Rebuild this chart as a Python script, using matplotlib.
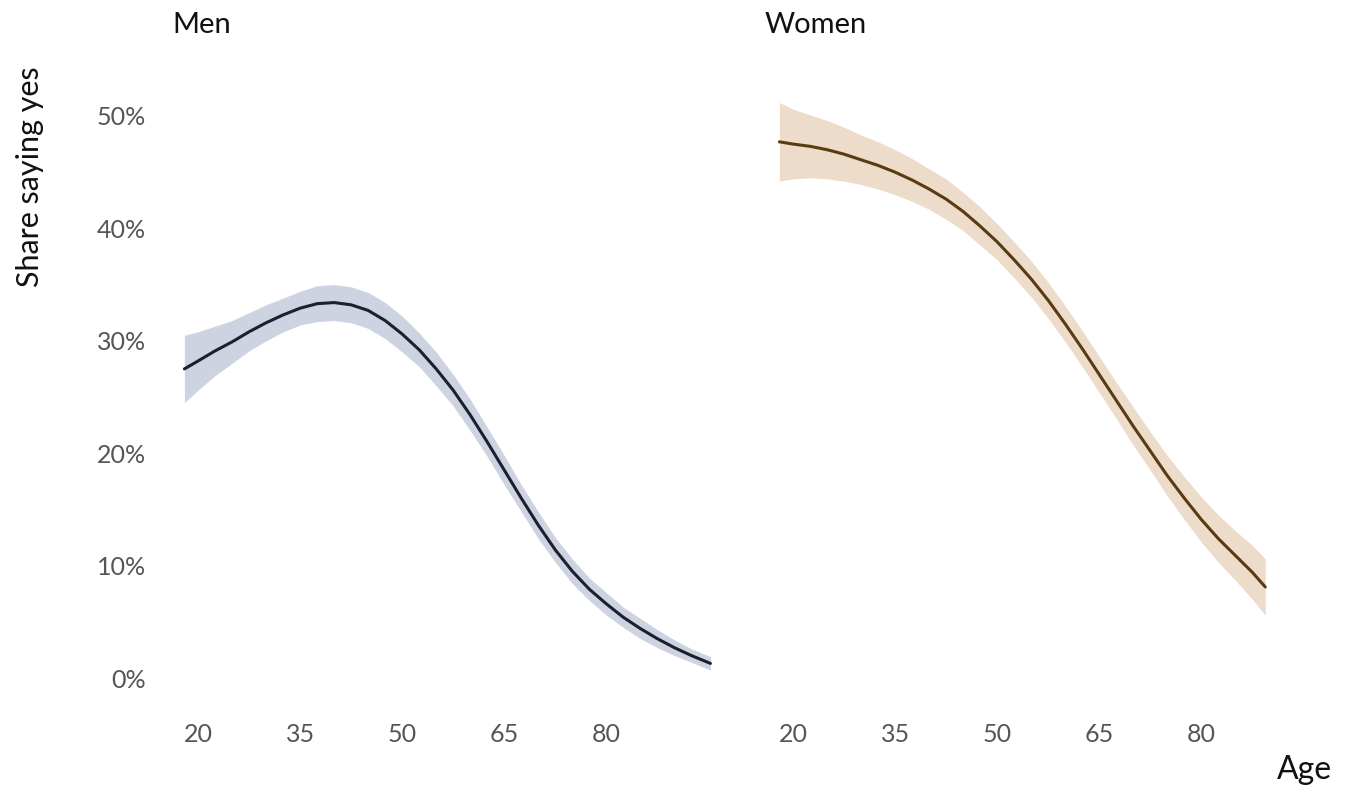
import matplotlib
matplotlib.use("Agg")
import matplotlib.pyplot as plt
from matplotlib.ticker import FuncFormatter

# smoothed share saying yes (%) by age, with confidence half-widths
men_age = [18, 20, 22.5, 25, 27.5, 30, 32.5, 35, 37.5, 40, 42.5, 45, 47.5, 50,
           52.5, 55, 57.5, 60, 62.5, 65, 67.5, 70, 72.5, 75, 77.5, 80, 82.5,
           85, 87.5, 90, 92.5, 95.3]
men_share = [27.5, 28.2, 29.1, 29.9, 30.8, 31.6, 32.3, 32.9, 33.3, 33.4, 33.2,
             32.7, 31.8, 30.6, 29.2, 27.5, 25.6, 23.4, 21.0, 18.5, 16.0, 13.6,
             11.4, 9.5, 7.9, 6.6, 5.4, 4.4, 3.5, 2.7, 2.0, 1.3]
men_ci = [3.0, 2.6, 2.2, 1.9, 1.7, 1.6, 1.5, 1.5, 1.6, 1.6, 1.6, 1.6, 1.6, 1.6,
          1.5, 1.5, 1.4, 1.4, 1.3, 1.3, 1.2, 1.2, 1.1, 1.1, 1.0, 1.0, 0.9, 0.9,
          0.8, 0.7, 0.6, 0.6]

women_age = [18, 20, 22.5, 25, 27.5, 30, 32.5, 35, 37.5, 40, 42.5, 45, 47.5,
             50, 52.5, 55, 57.5, 60, 62.5, 65, 67.5, 70, 72.5, 75, 77.5, 80,
             82.5, 85, 87.5, 89.4]
women_share = [47.7, 47.5, 47.3, 47.0, 46.6, 46.1, 45.6, 45.0, 44.3, 43.5, 42.6,
               41.5, 40.2, 38.8, 37.2, 35.5, 33.6, 31.5, 29.3, 27.0, 24.7, 22.4,
               20.2, 18.0, 16.0, 14.1, 12.4, 10.9, 9.4, 8.1]
women_ci = [3.5, 3.1, 2.8, 2.6, 2.4, 2.2, 2.1, 2.0, 1.9, 1.8, 1.8, 1.7, 1.7,
            1.6, 1.6, 1.6, 1.6, 1.6, 1.6, 1.6, 1.6, 1.7, 1.7, 1.8, 1.9, 2.0,
            2.1, 2.2, 2.4, 2.5]

age_ticks = [20, 35, 50, 65, 80]
share_ticks = [0, 10, 20, 30, 40, 50]

panels = [
    ("Men", men_age, men_share, men_ci, "#1c1f2c", "#cdd3e1"),
    ("Women", women_age, women_share, women_ci, "#5a3a12", "#ecdcc9"),
]

plt.rcParams["font.family"] = ["Lato", "DejaVu Sans"]

W, H = 1350, 789
fig = plt.figure(figsize=(W / 100, H / 100), dpi=100)
fig.patch.set_facecolor("white")

bottom = 1 - 700.5 / H
height = 629.5 / H
lefts = [164 / W, 759 / W]
width = 558 / W

for i, (name, age, share, ci, line_col, band_col) in enumerate(panels):
    ax = fig.add_axes([lefts[i], bottom, width, height])
    lo = [s - c for s, c in zip(share, ci)]
    hi = [s + c for s, c in zip(share, ci)]
    ax.fill_between(age, lo, hi, color=band_col, lw=0)
    ax.plot(age, share, color=line_col, lw=2.2, solid_capstyle="round",
            solid_joinstyle="round")

    ax.set_xlim(15, 97)
    ax.set_ylim(-2, 54)
    ax.set_xticks(age_ticks)
    ax.set_yticks(share_ticks)
    ax.yaxis.set_major_formatter(FuncFormatter(lambda v, p: f"{v:.0f}%"))
    ax.tick_params(length=0, labelsize=18, labelcolor="#555555")
    ax.tick_params(axis="x", pad=16)
    ax.tick_params(axis="y", pad=13)
    if i == 1:
        ax.tick_params(axis="y", labelleft=False)
    for sp in ax.spines.values():
        sp.set_visible(False)
    ax.set_facecolor("none")

fig.text(172 / W, 1 - 25 / H, "Men", fontsize=21, va="center", ha="left", color="#111111")
fig.text(765 / W, 1 - 25 / H, "Women", fontsize=21, va="center", ha="left", color="#111111")
fig.text(30 / W, 1 - 177 / H, "Share saying yes", fontsize=22, rotation=90,
         va="center", ha="center", color="#111111")
fig.text(1332 / W, 1 - 770 / H, "Age", fontsize=23, va="center", ha="right", color="#111111")

fig.savefig("out.png", dpi=100)
